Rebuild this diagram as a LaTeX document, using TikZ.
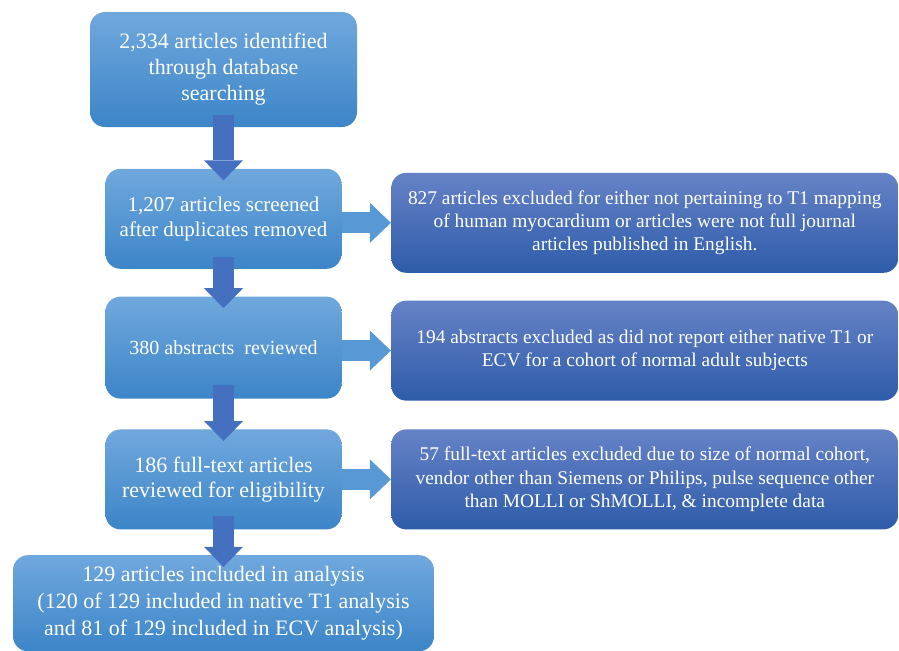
\documentclass[tikz,border=0pt]{standalone}
\usepackage{fontspec}
\IfFontExistsTF{Liberation Serif}{\setmainfont{Liberation Serif}}{\setmainfont{DejaVu Serif}}
\usepackage{tikz}
\usetikzlibrary{arrows.meta, positioning, calc}
\usepackage{xcolor}
\definecolor{stagetop}{RGB}{112,168,221}
\definecolor{stagebot}{RGB}{60,133,200}
\definecolor{excltop}{RGB}{102,130,198}
\definecolor{exclbot}{RGB}{46,92,170}
\definecolor{downblue}{RGB}{69,112,192}
\definecolor{sideblue}{RGB}{88,152,212}
\tikzstyle{stage} = [rectangle, rounded corners=7.5pt, minimum width=118pt, minimum height=50pt, inner sep=2pt, align=center, text=white, top color=stagetop, bottom color=stagebot, draw=none]
\tikzstyle{excl} = [rectangle, rounded corners=7.5pt, minimum width=253.5pt, minimum height=50pt, inner sep=2pt, align=center, text=white, top color=excltop, bottom color=exclbot, draw=none, font=\fontsize{9.7}{11.6}\selectfont]
\tikzstyle{downarrow} = [line width=10.5pt, draw=downblue, -{Triangle[width=19.5pt, length=10pt, line width=0pt]}]
\tikzstyle{sidearrow} = [line width=10.5pt, draw=sideblue, -{Triangle[width=20pt, length=10.5pt, line width=0pt]}]

\begin{document}
\begin{tikzpicture}
  \useasboundingbox (0,0) rectangle (449.5pt,-325pt);

  % Main column
  \node[stage, minimum width=133.5pt, minimum height=57.5pt, font=\fontsize{11}{13}\selectfont] (ident) at (111.75pt,-34.75pt) {2,334 articles identified\\through database\\searching};
  \node[stage, below=20.5pt of ident, font=\fontsize{10.5}{12.5}\selectfont] (screen) {1,207 articles screened\\after duplicates removed};
  \node[stage, minimum height=51pt, below=13.5pt of screen, font=\fontsize{10}{12}\selectfont] (abstr) {380 abstracts\ \ reviewed};
  \node[stage, below=15pt of abstr, font=\fontsize{11}{12.5}\selectfont] (fulltext) {186 full-text articles\\reviewed for eligibility};
  \node[stage, minimum width=210.5pt, minimum height=48pt, below=12.5pt of fulltext, font=\fontsize{11}{13.5}\selectfont] (incl) {129 articles included in analysis\\(120 of 129 included in native T1 analysis\\and 81 of 129 included in ECV analysis)};

  % Exclusions
  \node[excl, right=24.5pt of screen, yshift=-2pt] (exclA) {827 articles excluded for either not pertaining to T1 mapping\\of human myocardium or articles were not full journal\\articles published in English.};
  \node[excl, right=24.5pt of abstr, yshift=-1.5pt] (exclB) {194 abstracts excluded as did not report either native T1 or\\ECV for a cohort of normal adult subjects};
  \node[excl, right=24.5pt of fulltext] (exclC) {57 full-text articles excluded due to size of normal cohort,\\vendor other than Siemens or Philips, pulse sequence other\\than MOLLI or ShMOLLI, \& incomplete data};

  % Flow
  \draw[downarrow] ([yshift=6pt]ident.south) -- ([yshift=-6pt]screen.north);
  \draw[downarrow] ([yshift=6pt]screen.south) -- ([yshift=-6pt]abstr.north);
  \draw[downarrow] ([yshift=7pt]abstr.south) -- ([yshift=-6pt]fulltext.north);
  \draw[downarrow] ([yshift=7pt]fulltext.south) -- ([yshift=-6pt]incl.north);

  \draw[sidearrow] (screen.east |- exclA.west) -- (exclA.west);
  \draw[sidearrow] (abstr.east |- exclB.west) -- (exclB.west);
  \draw[sidearrow] (fulltext.east |- exclC.west) -- (exclC.west);
\end{tikzpicture}
\end{document}
